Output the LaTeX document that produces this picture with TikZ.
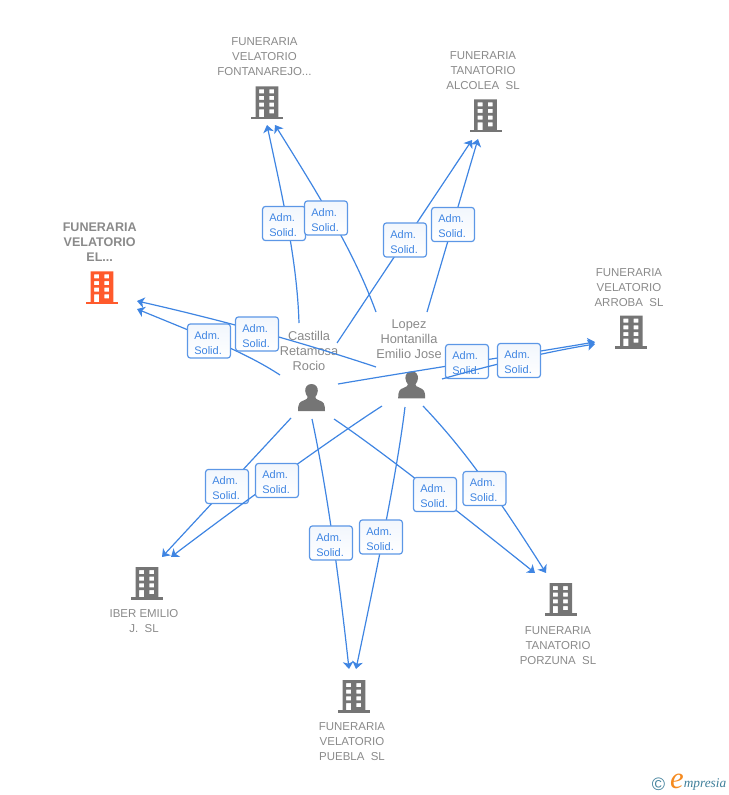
\documentclass[tikz,border=0pt]{standalone}
\usepackage{fontspec}
\setmainfont{Liberation Sans}
\newfontfamily\logofont{Liberation Serif}
\usetikzlibrary{arrows.meta}
\definecolor{linkblue}{HTML}{3F85E2}
\definecolor{txtgray}{HTML}{8A8A8A}
\definecolor{icongray}{HTML}{757575}
\definecolor{hiorange}{HTML}{FF5A2C}
\definecolor{logoteal}{HTML}{3F7F9A}
\definecolor{logoorange}{HTML}{F58A1F}
\tikzset{
  conn/.style={draw=linkblue,line width=0.9pt,-{Stealth[length=5.5pt,width=8pt,inset=1.5pt]}},
  lab/.style={rounded corners=2.2pt,draw=linkblue!85!white,line width=0.9pt,top color=linkblue!7!white,bottom color=white,
    minimum width=32.2pt,minimum height=25.6pt,inner sep=0pt,text=linkblue,align=left,text width=22pt,text height=9pt,
    font=\fontsize{8.25}{11.25}\selectfont},
  cname/.style={yshift=-1.5pt,text=txtgray,align=center,inner sep=0pt,font=\fontsize{8.6}{11.25}\selectfont},
  bname/.style={yshift=-1.5pt,text=txtgray,align=center,inner sep=0pt,font=\fontsize{9.4}{11.25}\selectfont\bfseries},
  pname/.style={yshift=-1.5pt,text=txtgray,align=center,inner sep=0pt,font=\fontsize{9.6}{11.25}\selectfont},
  pics/bldg/.style={code={
    \fill[#1,even odd rule] (-11.3,-33) rectangle (11.3,-2)
      (-8,-30) rectangle (-3,-26) (2.3,-30) rectangle (7,-26)
      (-8,-23.3) rectangle (-3,-19.3) (2.3,-23.3) rectangle (7,-19.3)
      (-8,-16.6) rectangle (-3,-12.6) (2.3,-16.6) rectangle (7,-12.6)
      (-8,-10) rectangle (-3,-2) (2.3,-10) rectangle (7,-6);
    \fill[#1] (-16,-2.6) rectangle (16,0);
  }},
  pics/pers/.style={code={
    \fill[icongray] (0,-27) .. controls (-4.5,-27) and (-6.5,-23.5) .. (-6.3,-20)
      .. controls (-6.2,-17.5) and (-5,-15.5) .. (-3.8,-14) .. controls (-3.8,-12.5) and (-5,-11.5) .. (-8,-10.5)
      .. controls (-12,-9) and (-13.5,-7.5) .. (-13.5,0) -- (13.5,0)
      .. controls (13.5,-7.5) and (12,-9) .. (8,-10.5) .. controls (5,-11.5) and (3.8,-12.5) .. (3.8,-14)
      .. controls (5,-15.5) and (6.2,-17.5) .. (6.3,-20) .. controls (6.5,-23.5) and (4.5,-27) .. (0,-27) -- cycle;
  }}
}
\begin{document}
\begin{tikzpicture}[x=0.75pt,y=-0.75pt]
\useasboundingbox (0,0) rectangle (728,795);
% icons
\pic at (267,119.3) {bldg=icongray};
\pic at (485.5,132.3) {bldg=icongray};
\pic at (102,304.3) {bldg=hiorange};
\pic at (631.3,348.7) {bldg=icongray};
\pic at (147,600) {bldg=icongray};
\pic at (560.8,616) {bldg=icongray};
\pic at (354,713) {bldg=icongray};
\pic at (311.5,411) {pers};
\pic at (411.7,398.3) {pers};
% names
\node[cname] (fontanarejo) at (264.5,56) {\strut FUNERARIA\\VELATORIO\\FONTANAREJO...\strut};
\node[cname] (alcolea) at (483,70) {\strut FUNERARIA\\TANATORIO\\ALCOLEA\ \ SL\strut};
\node[bname] (elnode) at (99.7,241.7) {\strut FUNERARIA\\VELATORIO\\EL...\strut};
\node[cname] (arroba) at (629,286) {\strut FUNERARIA\\VELATORIO\\ARROBA\ \ SL\strut};
\node[cname] (iber) at (144,619.5) {\strut IBER EMILIO\\J.\ \ SL\strut};
\node[cname] (porzuna) at (558,644) {\strut FUNERARIA\\TANATORIO\\PORZUNA\ \ SL\strut};
\node[cname] (puebla) at (352,740) {\strut FUNERARIA\\VELATORIO\\PUEBLA\ \ SL\strut};
\node[pname] (castilla) at (309,350) {\strut Castilla\\Retamosa\\Rocio\strut};
\node[pname] (lopez) at (409,338) {\strut Lopez\\Hontanilla\\Emilio Jose\strut};
% connector ends
\coordinate (cf) at (299,323); \coordinate (ef1) at (267,125);
\coordinate (lf) at (376,312); \coordinate (ef2) at (275,125);
\coordinate (ca) at (337,343); \coordinate (ea1) at (472,140);
\coordinate (la) at (427,312); \coordinate (ea2) at (478,139);
\coordinate (ce) at (280,375); \coordinate (ee1) at (137,309);
\coordinate (le) at (376,367); \coordinate (ee2) at (137,301);
\coordinate (cr) at (338,384); \coordinate (er1) at (595,342);
\coordinate (lr) at (442,379); \coordinate (er2) at (595,344);
\coordinate (ci) at (291,418); \coordinate (ei1) at (162,557);
\coordinate (li) at (382,406); \coordinate (ei2) at (171,557);
\coordinate (cp) at (312,419); \coordinate (ep1) at (349,669);
\coordinate (lp) at (405,407); \coordinate (ep2) at (356,669);
\coordinate (cz) at (334,419); \coordinate (ez1) at (535,573);
\coordinate (lz) at (423,406); \coordinate (ez2) at (546,573);
% connectors and their labels
\draw[conn] (cf) .. controls (297,260) and (283,200) .. (ef1);
\node[lab] (l1) at (284,223.5) {Adm.\\Solid.};
\draw[conn] (lf) .. controls (355,255) and (325,205) .. (ef2);
\node[lab] (l2) at (326,218) {Adm.\\Solid.};
\draw[conn] (ca) -- (ea1);
\node[lab] (l3) at (405,240) {Adm.\\Solid.};
\draw[conn] (la) -- (ea2);
\node[lab] (l4) at (453,224.5) {Adm.\\Solid.};
\draw[conn] (ce) .. controls (245,352) and (200,335) .. (ee1);
\node[lab] (l5) at (209,341) {Adm.\\Solid.};
\draw[conn] (le) .. controls (310,345) and (230,322) .. (ee2);
\node[lab] (l6) at (257,334) {Adm.\\Solid.};
\draw[conn] (cr) .. controls (420,370) and (500,358) .. (er1);
\node[lab] (l7) at (467,361.5) {Adm.\\Solid.};
\draw[conn] (lr) .. controls (480,368) and (540,353) .. (er2);
\node[lab] (l8) at (519,360.5) {Adm.\\Solid.};
\draw[conn] (ci) -- (ei1);
\node[lab] (l9) at (227,486.5) {Adm.\\Solid.};
\draw[conn] (li) .. controls (340,433) and (250,497) .. (ei2);
\node[lab] (l10) at (277,480.5) {Adm.\\Solid.};
\draw[conn] (cp) .. controls (325,480) and (337,560) .. (ep1);
\node[lab] (l11) at (331,543) {Adm.\\Solid.};
\draw[conn] (lp) .. controls (398,465) and (380,555) .. (ep2);
\node[lab] (l12) at (381,537) {Adm.\\Solid.};
\draw[conn] (cz) .. controls (380,450) and (450,505) .. (ez1);
\node[lab] (l13) at (435,494.5) {Adm.\\Solid.};
\draw[conn] (lz) .. controls (460,445) and (490,485) .. (ez2);
\node[lab] (l14) at (484.5,488.5) {Adm.\\Solid.};
% logo
\node[text=logoteal,inner sep=0pt,font=\fontsize{13.5}{13.5}\selectfont] (copy) at (658.5,784.5) {©};
\node[text=logoorange,inner sep=0pt,font=\logofont\itshape\fontsize{23}{23}\selectfont] (loge) at (677,781.5) {e};
\node[text=logoteal,inner sep=0pt,anchor=west,font=\logofont\itshape\fontsize{10}{10}\selectfont] (logt) at (683.5,784.5) {mpresia};
\end{tikzpicture}
\end{document}
